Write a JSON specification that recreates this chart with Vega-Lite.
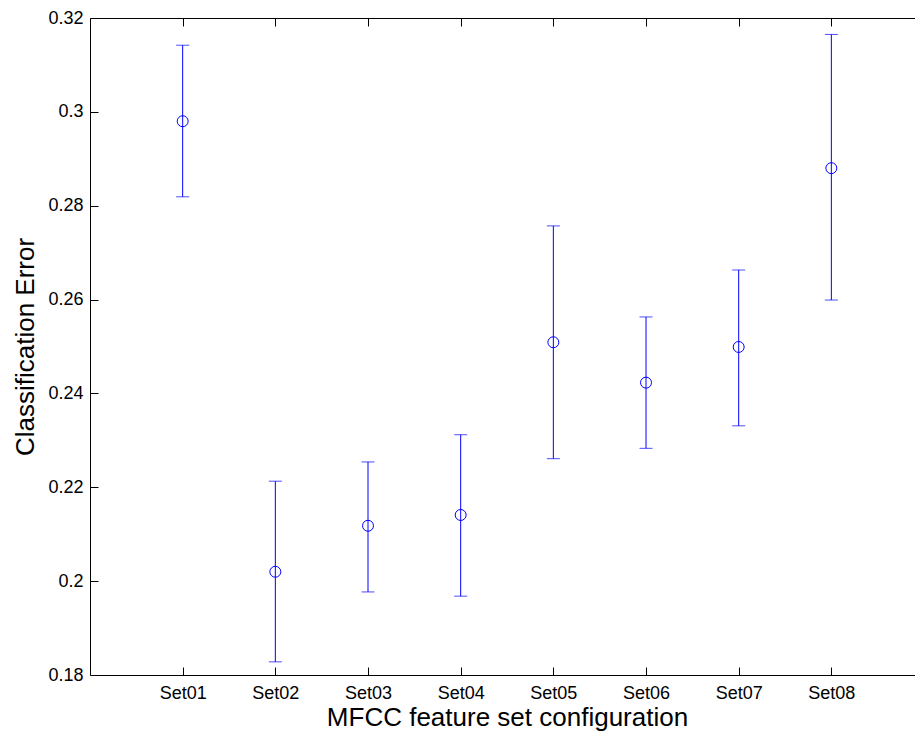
{
  "$schema": "https://vega.github.io/schema/vega-lite/v6.json",
  "autosize": "none",
  "width": 825,
  "height": 657,
  "padding": {"left": 90, "top": 18, "right": 0, "bottom": 63},
  "background": "white",
  "data": {
    "values": [
      {"set": "Set01", "mean": 0.2980, "lo": 0.2819, "hi": 0.3142},
      {"set": "Set02", "mean": 0.2020, "lo": 0.1828, "hi": 0.2213},
      {"set": "Set03", "mean": 0.2118, "lo": 0.1977, "hi": 0.2254},
      {"set": "Set04", "mean": 0.2141, "lo": 0.1968, "hi": 0.2312},
      {"set": "Set05", "mean": 0.2509, "lo": 0.2261, "hi": 0.2757},
      {"set": "Set06", "mean": 0.2423, "lo": 0.2283, "hi": 0.2563},
      {"set": "Set07", "mean": 0.2499, "lo": 0.2331, "hi": 0.2663},
      {"set": "Set08", "mean": 0.2880, "lo": 0.2599, "hi": 0.3165}
    ]
  },
  "layer": [
    {
      "mark": {"type": "rule", "color": "#0000ff", "strokeWidth": 1},
      "encoding": {
        "x": {
          "field": "set", "type": "nominal", "sort": null,
          "scale": {"type": "point", "padding": 0.9513, "align": 0.5256},
          "axis": {
            "orient": "bottom",
            "title": "MFCC feature set configuration",
            "titleX": 417, "titleY": 50, "titleBaseline": "alphabetic", "titleAlign": "center",
            "labelAngle": 0, "labelPadding": 17, "labelBaseline": "top"
          }
        },
        "y": {
          "field": "lo", "type": "quantitative",
          "scale": {"domain": [0.18, 0.32], "nice": false, "zero": false},
          "axis": {
            "title": "Classification Error",
            "values": [0.18, 0.2, 0.22, 0.24, 0.26, 0.28, 0.3, 0.32],
            "format": ".2~f",
            "labelPadding": 15,
            "titleX": -57, "titleY": 328.5, "titleAngle": -90,
            "titleBaseline": "alphabetic", "titleAlign": "center"
          }
        },
        "y2": {"field": "hi"}
      }
    },
    {
      "mark": {"type": "tick", "color": "#0000ff", "thickness": 1, "size": 13, "orient": "horizontal"},
      "encoding": {
        "x": {"field": "set", "type": "nominal", "sort": null, "axis": null},
        "y": {"field": "lo", "type": "quantitative"}
      }
    },
    {
      "mark": {"type": "tick", "color": "#0000ff", "thickness": 1, "size": 13, "orient": "horizontal"},
      "encoding": {
        "x": {"field": "set", "type": "nominal", "sort": null, "axis": null},
        "y": {"field": "hi", "type": "quantitative"}
      }
    },
    {
      "mark": {"type": "point", "shape": "circle", "filled": false, "color": "#0000ff", "strokeWidth": 1, "size": 120, "opacity": 1},
      "encoding": {
        "x": {"field": "set", "type": "nominal", "sort": null,
              "axis": {"orient": "top", "labels": false, "title": null}},
        "y": {"field": "mean", "type": "quantitative"}
      }
    }
  ],
  "resolve": {"axis": {"x": "independent"}},
  "config": {
    "view": {"stroke": null},
    "axis": {
      "grid": false,
      "domainColor": "#000000",
      "domainWidth": 1,
      "tickColor": "#000000",
      "tickWidth": 1,
      "tickSize": -8,
      "labelFont": "Liberation Sans",
      "labelFontSize": 18,
      "labelColor": "#000000",
      "titleFont": "Liberation Sans",
      "titleFontSize": 26,
      "titleFontWeight": "normal",
      "titleColor": "#000000"
    }
  }
}
